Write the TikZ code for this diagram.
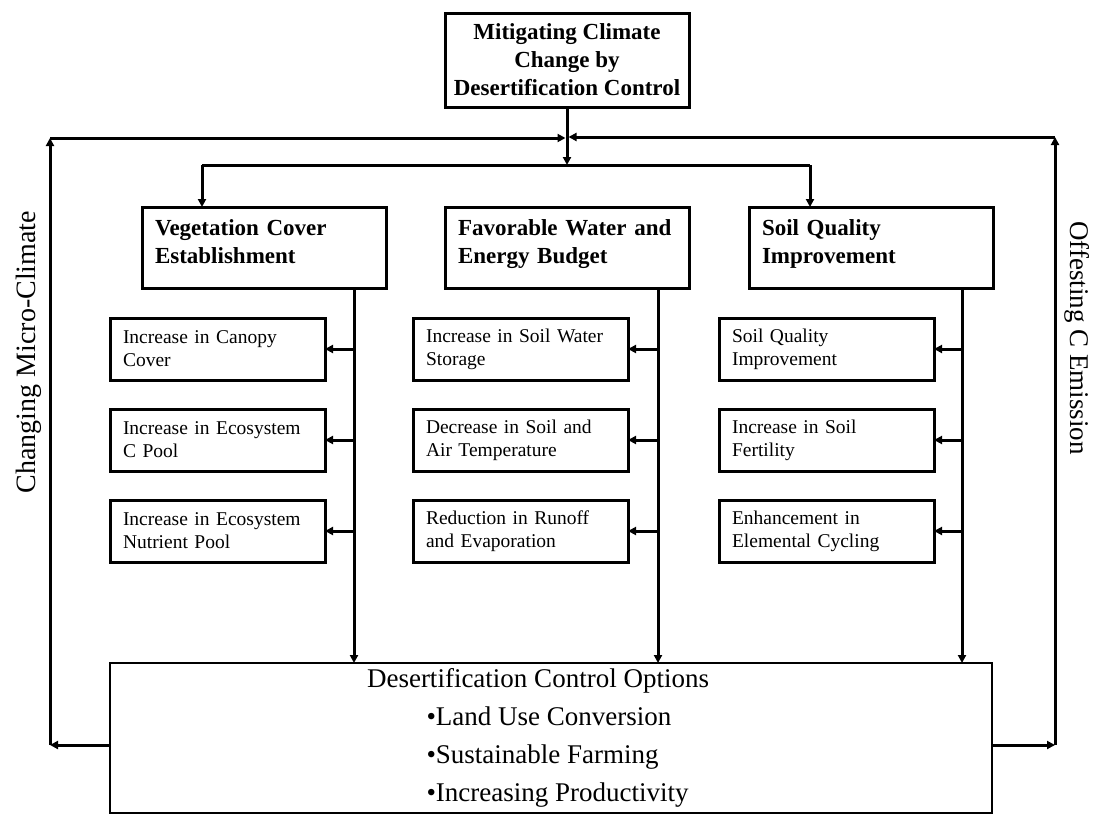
\documentclass[tikz,border=0pt]{standalone}
\usepackage{fontspec}
\setmainfont{Liberation Serif}
\usetikzlibrary{arrows.meta}
% deep invisible strut that evens out the last line of the pathway boxes
\newcommand\catpad{\rule[-11pt]{0pt}{1pt}}

\begin{document}
\begin{tikzpicture}[x=1pt,y=-1pt,
  line width=3pt,
  tip/.style={-{Triangle[length=8pt,width=8pt]}},
  frame/.style={draw,line width=3pt,rectangle,anchor=north west,inner sep=0pt,outer sep=0pt},
  topbox/.style={frame,minimum width=244pt,minimum height=94pt,align=center,
    font=\bfseries\fontsize{23}{28}\selectfont},
  catbox/.style={frame,minimum width=244pt,minimum height=81pt,text width=218pt,align=left,
    font=\bfseries\fontsize{23}{28}\selectfont},
  subbox/.style={frame,minimum width=215pt,minimum height=62pt,text width=189pt,align=left,
    font=\fontsize{19.5}{23}\selectfont},
  sidelabel/.style={font=\fontsize{28}{30}\selectfont,inner sep=0pt},
  bigtext/.style={font=\fontsize{27}{38}\selectfont,inner sep=0pt},
]
\useasboundingbox (0,0) rectangle (1099,814);

% goal
\node[topbox] (top) at (445,13) {Mitigating Climate\\Change by\\Desertification Control};

% three pathways
\node[catbox] (veg)  at (142,207) {Vegetation Cover\\Establishment\catpad};
\node[catbox] (wat)  at (445,207) {Favorable Water and\\Energy Budget\catpad};
\node[catbox] (soil) at (749,207) {Soil Quality\\Improvement\catpad};

% effects under each pathway
\node[subbox] (a1) at (110,318) {Increase in Canopy\\Cover};
\node[subbox] (a2) at (110,409) {Increase in Ecosystem\\C Pool};
\node[subbox] (a3) at (110,500) {Increase in Ecosystem\\Nutrient Pool};
\node[subbox] (b1) at (413,318) {Increase in Soil Water\\Storage};
\node[subbox] (b2) at (413,409) {Decrease in Soil and\\Air Temperature};
\node[subbox] (b3) at (413,500) {Reduction in Runoff\\and Evaporation};
\node[subbox] (c1) at (719,318) {Soil Quality\\Improvement};
\node[subbox] (c2) at (719,409) {Increase in Soil\\Fertility};
\node[subbox] (c3) at (719,500) {Enhancement in\\Elemental Cycling};

% control options
\node[frame,line width=2pt,minimum width=882pt,minimum height=150pt] (opts) at (110,663) {};
\node[bigtext] (optt) at (538,681) {Desertification Control Options};
\node[bigtext,anchor=west,align=left] (optl) at (425,757)
  {•Land Use Conversion\\•Sustainable Farming\\•Increasing Productivity};

% side labels
\node[sidelabel,rotate=90]  (micro) at (29,352)   {Changing Micro-Climate};
\node[sidelabel,rotate=-90,font=\fontsize{27}{30}\selectfont] (emis) at (1077,338) {Offesting C Emission};

% routing points
\coordinate (lb)  at (50,745);
\coordinate (lt)  at (50,138);
\coordinate (rb)  at (1055,745);
\coordinate (rt)  at (1055,137);
\coordinate (hub) at (567,165);
\coordinate (vl)  at (202,165);
\coordinate (vr)  at (810,165);
\coordinate (t1)  at (354,0);
\coordinate (t2)  at (658,0);
\coordinate (t3)  at (962,0);

% feedback loops
\draw[tip] (opts.west |- lb) -- (lb);
\draw[tip] (lb) -- (lt);
\draw[tip,shorten >=1.5pt] (lt) -- (top.south |- lt);
\draw[tip] (opts.east |- rb) -- (rb);
\draw[tip] (rb) -- (rt);
\draw[tip,shorten >=1.5pt] (rt) -- (top.south |- rt);

% goal to pathways
\draw[tip] (top.south) -- (hub);
\draw (vl) -- (vr);
\draw[tip] (vl) -- (vl |- veg.north);
\draw[tip] (vr) -- (vr |- soil.north);

% pathway trunks down to the options box
\draw[tip] (t1 |- veg.south)  -- (t1 |- opts.north);
\draw[tip] (t2 |- wat.south)  -- (t2 |- opts.north);
\draw[tip] (t3 |- soil.south) -- (t3 |- opts.north);

% branches to the effects
\foreach \t/\n in {t1/a1,t1/a2,t1/a3,t2/b1,t2/b2,t2/b3,t3/c1,t3/c2,t3/c3}
  \draw[tip] (\t |- \n.east) -- (\n.east);
\end{tikzpicture}
\end{document}
